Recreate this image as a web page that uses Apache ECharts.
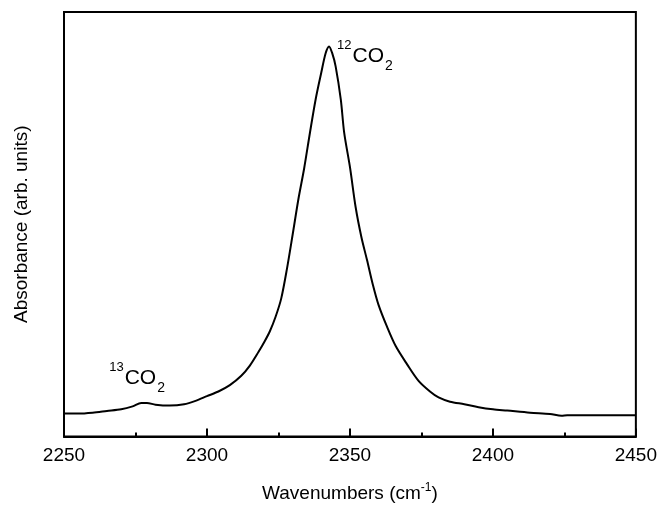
<!DOCTYPE html>
<html>
<head>
<meta charset="utf-8">
<script src="https://cdn.jsdelivr.net/npm/echarts@6/dist/echarts.min.js"></script>
<style>
  html, body { margin: 0; padding: 0; background: #fff; }
  #chart { width: 660px; height: 508px; }
</style>
</head>
<body>
<div id="chart"></div>
<script>
// spectrum (absorbance in arbitrary units, 0..1 of the frame)
const wavenumbers = [
  2250, 2255, 2260, 2265, 2270, 2274, 2277, 2279, 2282, 2287, 2292, 2296,
  2300, 2304, 2308, 2312, 2315, 2318, 2320, 2322, 2324, 2326, 2328, 2330,
  2332, 2334, 2336, 2338, 2340, 2341.5, 2342.7, 2343.8, 2345, 2346.8, 2348,
  2350, 2352, 2354, 2356, 2358, 2360, 2363, 2366, 2370, 2374, 2378,
  2381, 2385, 2390, 2395, 2400, 2405, 2413, 2420, 2424, 2426, 2435, 2450
];
const absorbance = [
  0.054, 0.054, 0.056, 0.060, 0.064, 0.071, 0.079, 0.079, 0.075, 0.073, 0.076, 0.084,
  0.095, 0.106, 0.121, 0.143, 0.167, 0.199, 0.222, 0.248, 0.282, 0.326, 0.396, 0.477,
  0.560, 0.632, 0.715, 0.794, 0.858, 0.903, 0.919, 0.903, 0.872, 0.794, 0.715,
  0.635, 0.540, 0.470, 0.415, 0.358, 0.310, 0.258, 0.213, 0.170, 0.131, 0.106,
  0.092, 0.082, 0.076, 0.069, 0.064, 0.061, 0.056, 0.053, 0.049, 0.050, 0.050, 0.050
];
const xTicks = [2250, 2300, 2350, 2400, 2450];

const font = '"Liberation Sans", Arial, sans-serif';
const chart = echarts.init(document.getElementById('chart'));

const peakLabel = (fmt, offset) => ({
  show: true,
  position: 'right',
  distance: 0,
  offset: offset,
  formatter: fmt,
  rich: {
    sup: { fontSize: 13, fontFamily: font, color: '#000', verticalAlign: 'top', lineHeight: 13 },
    m: { fontSize: 21, fontFamily: font, color: '#000', lineHeight: 34, padding: [0, 1, 0, 1] },
    sub: { fontSize: 14, fontFamily: font, color: '#000', verticalAlign: 'bottom', lineHeight: 14 }
  }
});

chart.setOption({
  animation: false,
  grid: {
    left: 64, right: 21, top: 12, bottom: 69,
    show: true, borderColor: '#000', borderWidth: 2
  },
  xAxis: {
    type: 'value',
    min: xTicks[0],
    max: xTicks[xTicks.length - 1],
    interval: 50,
    name: '{a|Wavenumbers (cm}{s|-1}{a|)}',
    nameLocation: 'middle',
    nameGap: 45,
    nameTextStyle: {
      rich: {
        a: { fontSize: 19, fontFamily: font, color: '#000', lineHeight: 24 },
        s: { fontSize: 12, fontFamily: font, color: '#000', verticalAlign: 'top', lineHeight: 12 }
      }
    },
    axisLine: { lineStyle: { color: '#000', width: 2 } },
    axisTick: { inside: true, length: 8, lineStyle: { color: '#000', width: 2 } },
    minorTick: { show: true, splitNumber: 2, length: 4, lineStyle: { color: '#000', width: 2 } },
    axisLabel: {
      fontSize: 19, fontFamily: font, color: '#000', margin: 10,
      formatter: (v) => String(v)
    },
    splitLine: { show: false }
  },
  yAxis: {
    type: 'value',
    min: 0,
    max: 1,
    name: 'Absorbance (arb. units)',
    nameLocation: 'middle',
    nameGap: 33,
    nameTextStyle: { fontSize: 19, fontFamily: font, color: '#000' },
    axisLine: { show: true, lineStyle: { color: '#000', width: 2 } },
    axisTick: { show: false },
    axisLabel: { show: false },
    splitLine: { show: false }
  },
  series: [{
    type: 'line',
    data: wavenumbers.map((w, i) => [w, absorbance[i]]),
    smooth: 0.3,
    showSymbol: false,
    lineStyle: { color: '#000', width: 2 },
    markPoint: {
      symbol: 'circle',
      symbolSize: 0,
      data: [
        { coord: [2342.7, 0.919], label: peakLabel('{sup|12}{m|CO}{sub|2}', [8, 10]) },
        { coord: [2277, 0.079], label: peakLabel('{sup|13}{m|CO}{sub|2}', [-32, -25]) }
      ]
    }
  }]
});
</script>
</body>
</html>
